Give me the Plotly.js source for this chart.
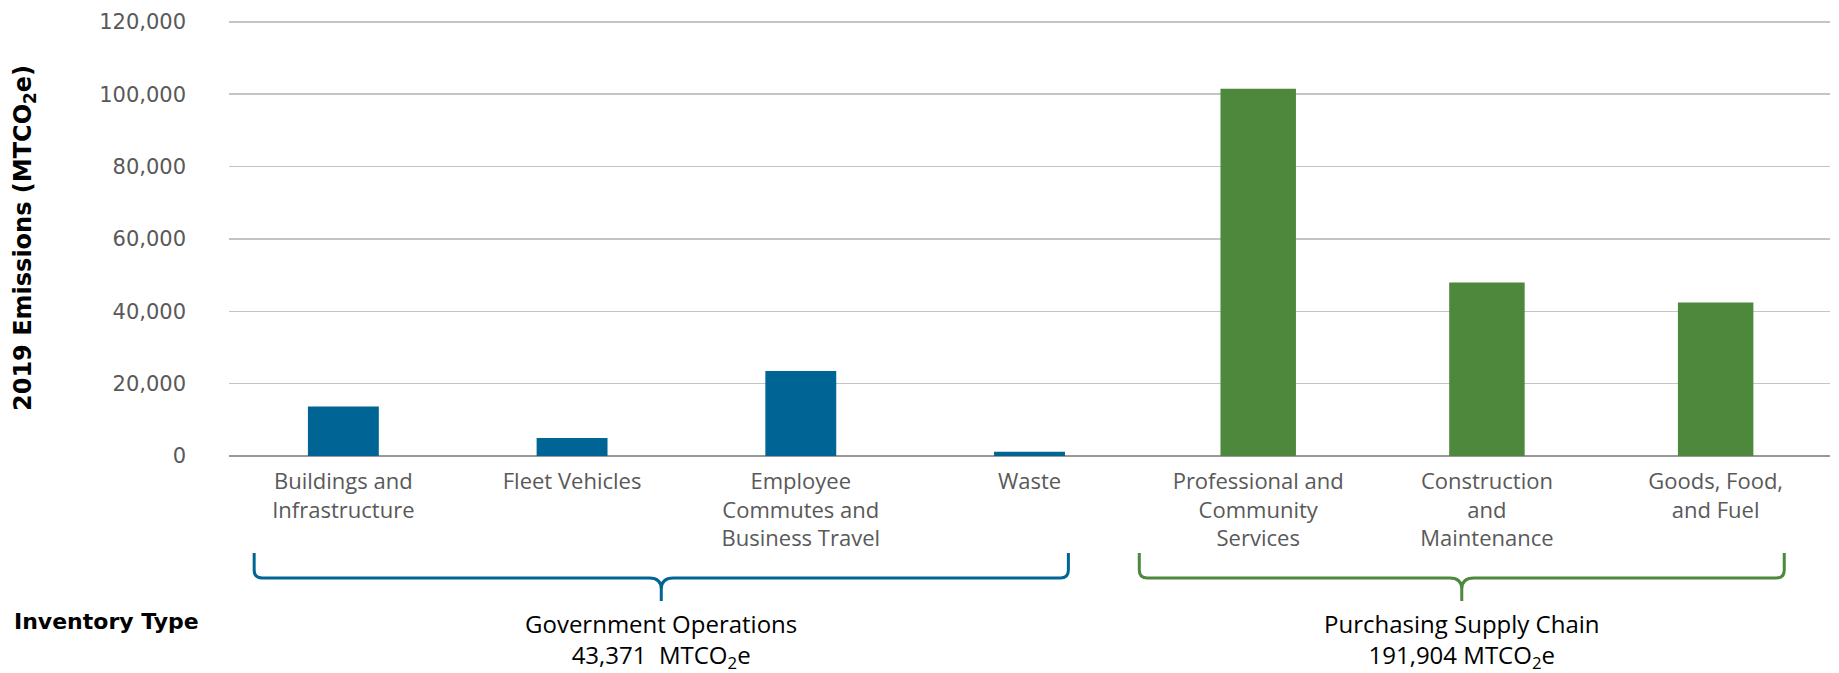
<!DOCTYPE html>
<html>
<head>
<meta charset="utf-8">
<script src="https://cdn.plot.ly/plotly-3.0.1.min.js"></script>
<style>html,body{margin:0;padding:0;background:#fff;}#chart{width:1839px;height:673px;}</style>
</head>
<body>
<div id="chart"></div>
<script>
// ---- data ----
const govCategories = ['Buildings and Infrastructure', 'Fleet Vehicles', 'Employee Commutes and Business Travel', 'Waste'];
const govValues = [13700, 5000, 23500, 1170];
const supplyCategories = ['Professional and Community Services', 'Construction and Maintenance', 'Goods, Food, and Fuel'];
const supplyValues = [101500, 47950, 42450];
const tickLabels = ['Buildings and<br>Infrastructure', 'Fleet Vehicles', 'Employee<br>Commutes and<br>Business Travel', 'Waste',
                    'Professional and<br>Community<br>Services', 'Construction<br>and<br>Maintenance', 'Goods, Food,<br>and Fuel'];
const yTickVals = [0, 20000, 40000, 60000, 80000, 100000, 120000];
const groupNames = ['Government Operations', 'Purchasing Supply Chain'];
const groupTotals = ['43,371&nbsp; MTCO<sub>2</sub>e', '191,904 MTCO<sub>2</sub>e'];

const allCategories = govCategories.concat(supplyCategories);
const BLUE = '#006595', GREEN = '#4E883C';

// ---- geometry helpers (layout only) ----
const W = 1839, H = 673, ML = 229, MR = 9, MT = 20, MB = 217;
const plotH = H - MT - MB, n = allCategories.length;
const px2py = p => (H - MB - p) / plotH;            // pixel row -> paper y
const idx2px = i => (i + 0.5) / n;                  // category index -> paper x

function bracePath(i0, i1, top, bar, tip) {
  const x0 = idx2px(i0), x1 = idx2px(i1), xm = (x0 + x1) / 2;
  const plotW = W - ML - MR;
  const r = 8 / plotW, nw = 12 / plotW;
  const yT = px2py(top), yB = px2py(bar), yBr = px2py(bar - 8), yN = px2py(bar + 11), yTip = px2py(tip);
  return `M${x0},${yT} L${x0},${yBr} Q${x0},${yB} ${x0 + r},${yB} L${xm - nw},${yB} Q${xm},${yB} ${xm},${yN} L${xm},${yTip} ` +
         `L${xm},${yN} Q${xm},${yB} ${xm + nw},${yB} L${x1 - r},${yB} Q${x1},${yB} ${x1},${yBr} L${x1},${yT}`;
}

const traces = [
  { type: 'bar', x: govCategories, y: govValues, marker: { color: BLUE }, width: 0.31, hoverinfo: 'x+y', name: groupNames[0] },
  { type: 'bar', x: supplyCategories, y: supplyValues, marker: { color: GREEN }, width: 0.33, hoverinfo: 'x+y', name: groupNames[1] }
];

const braces = [[-0.39, 3.17], [3.48, 6.30]];

const layout = {
  width: W, height: H,
  margin: { l: ML, r: MR, t: MT, b: MB },
  paper_bgcolor: '#fff', plot_bgcolor: '#fff',
  barmode: 'overlay',
  showlegend: false,
  xaxis: {
    type: 'category', categoryorder: 'array', categoryarray: allCategories,
    tickvals: allCategories, ticktext: tickLabels,
    showgrid: false, showline: false, zeroline: false, ticks: '',
    tickfont: { family: 'Open Sans, sans-serif', size: 22, color: '#595959' },
    ticklabelstandoff: 10
  },
  yaxis: {
    range: [0, 120500], tickvals: yTickVals, tickformat: ',d',
    showgrid: true, gridcolor: '#c4c4c4', gridwidth: 1.5,
    zeroline: true, zerolinecolor: '#999999', zerolinewidth: 1.5,
    showline: false, ticks: '',
    tickfont: { family: 'DejaVu Sans, sans-serif', size: 21, color: '#595959' },
    ticklabelstandoff: 42,
    title: { text: '<b>2019 Emissions (MTCO<sub>2</sub>e)</b>', font: { family: 'DejaVu Sans, sans-serif', size: 24, color: '#000' }, standoff: 60 }
  },
  shapes: [
    { type: 'path', xref: 'paper', yref: 'paper', path: bracePath(braces[0][0], braces[0][1], 553, 578, 601), line: { color: BLUE, width: 3 } },
    { type: 'path', xref: 'paper', yref: 'paper', path: bracePath(braces[1][0], braces[1][1], 553, 578, 601), line: { color: GREEN, width: 3 } }
  ],
  annotations: [
    { xref: 'paper', yref: 'paper', x: (12 - ML) / (W - ML - MR), y: px2py(621), xanchor: 'left', yanchor: 'middle', showarrow: false,
      text: '<b>Inventory Type</b>', font: { family: 'DejaVu Sans, sans-serif', size: 22, color: '#000' } },
    { xref: 'paper', yref: 'paper', x: (idx2px(braces[0][0]) + idx2px(braces[0][1])) / 2, y: px2py(640), xanchor: 'center', yanchor: 'middle', showarrow: false,
      text: groupNames[0] + '<br>' + groupTotals[0], font: { family: 'Open Sans, sans-serif', size: 24, color: '#000' } },
    { xref: 'paper', yref: 'paper', x: (idx2px(braces[1][0]) + idx2px(braces[1][1])) / 2, y: px2py(640), xanchor: 'center', yanchor: 'middle', showarrow: false,
      text: groupNames[1] + '<br>' + groupTotals[1], font: { family: 'Open Sans, sans-serif', size: 24, color: '#000' } }
  ]
};

Plotly.newPlot('chart', traces, layout, { displayModeBar: false, staticPlot: true });
</script>
</body>
</html>
